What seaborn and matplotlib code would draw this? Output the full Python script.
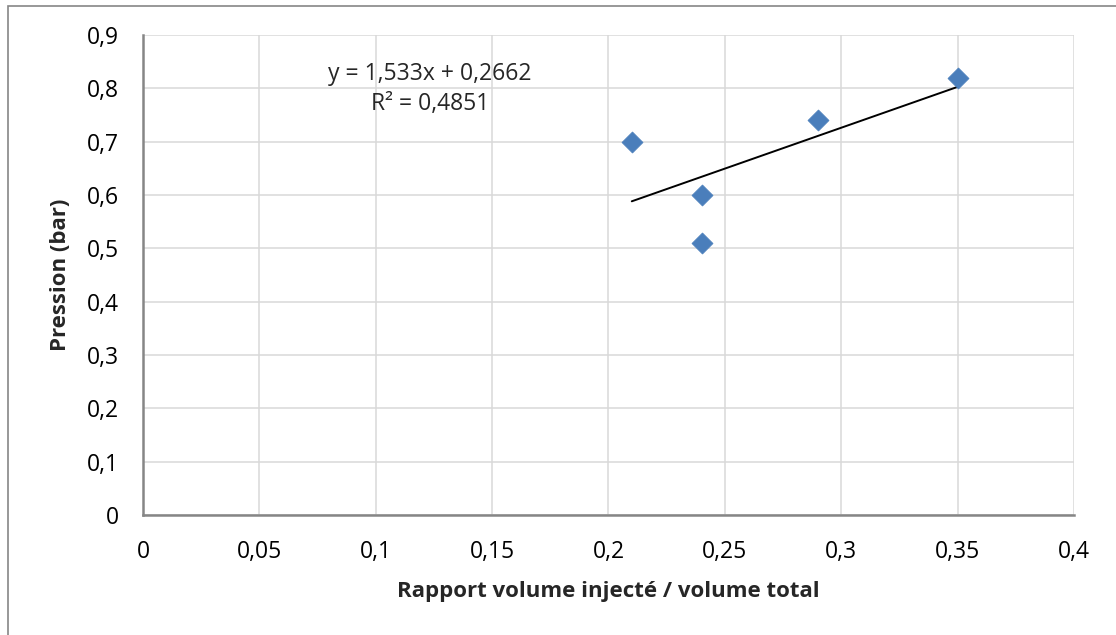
import numpy as np
import pandas as pd
import matplotlib
matplotlib.use("Agg")
import matplotlib.pyplot as plt
from matplotlib.patches import Rectangle
from matplotlib.ticker import FuncFormatter, MultipleLocator
import seaborn as sns

# Data
rapport = [0.21, 0.24, 0.24, 0.29, 0.35]
pression = [0.70, 0.60, 0.51, 0.74, 0.82]
df = pd.DataFrame({"rapport": rapport, "pression": pression})

sns.set_style("white")
plt.rcParams["font.family"] = ["Open Sans", "DejaVu Sans"]

fig = plt.figure(figsize=(11.16, 6.35), dpi=100)
ax = fig.add_axes([0.1281, 0.189, 0.8343, 0.7559])

grey = "#868686"
blue = "#4a7ebb"

sns.scatterplot(data=df, x="rapport", y="pression", marker="D", s=115,
                color=blue, edgecolor=blue, linewidth=0.5, ax=ax, zorder=3)
sns.regplot(data=df, x="rapport", y="pression", scatter=False, ci=None,
            truncate=True, color="black", line_kws={"linewidth": 1.4}, ax=ax)

# trendline label, like Excel
slope, intercept = np.polyfit(rapport, pression, 1)
r2 = np.corrcoef(rapport, pression)[0, 1] ** 2
eq = f"y = {slope:.3f}x + {intercept:.4f}".replace(".", ",")
r2_txt = f"R² = {r2:.4f}".replace(".", ",")
ax.text(0.1233, 0.826, eq, ha="center", va="center", fontsize=16.5)
ax.text(0.1233, 0.771, r2_txt, ha="center", va="center", fontsize=16.5)

ax.set_xlim(0, 0.4)
ax.set_ylim(0, 0.9)
ax.xaxis.set_major_locator(MultipleLocator(0.05))
ax.yaxis.set_major_locator(MultipleLocator(0.1))
fmt = FuncFormatter(lambda v, p: f"{v:.2f}".rstrip("0").rstrip(".").replace(".", ",") if v else "0")
ax.xaxis.set_major_formatter(fmt)
ax.yaxis.set_major_formatter(fmt)

ax.grid(True, color="#d9d9d9", linewidth=1.1)
ax.set_axisbelow(True)
for side in ["top", "right"]:
    ax.spines[side].set_visible(False)
for side in ["left", "bottom"]:
    ax.spines[side].set_color(grey)
    ax.spines[side].set_linewidth(1.8)
ax.tick_params(axis="both", direction="out", length=6, width=1.2, color=grey,
               labelsize=16.5, labelcolor="black")
ax.tick_params(axis="x", pad=12)
ax.tick_params(axis="y", pad=11)

ax.set_xlabel("Rapport volume injecté / volume total", fontsize=16,
              fontweight="bold", labelpad=12)
ax.set_ylabel("Pression (bar)", fontsize=16, fontweight="bold", labelpad=12)

fig.patches.append(Rectangle((8 / 1116, -0.1), 2, 0.9906 + 0.1,
                             transform=fig.transFigure, fill=False,
                             edgecolor=grey, linewidth=1.2))

fig.savefig("out.png", dpi=100)
